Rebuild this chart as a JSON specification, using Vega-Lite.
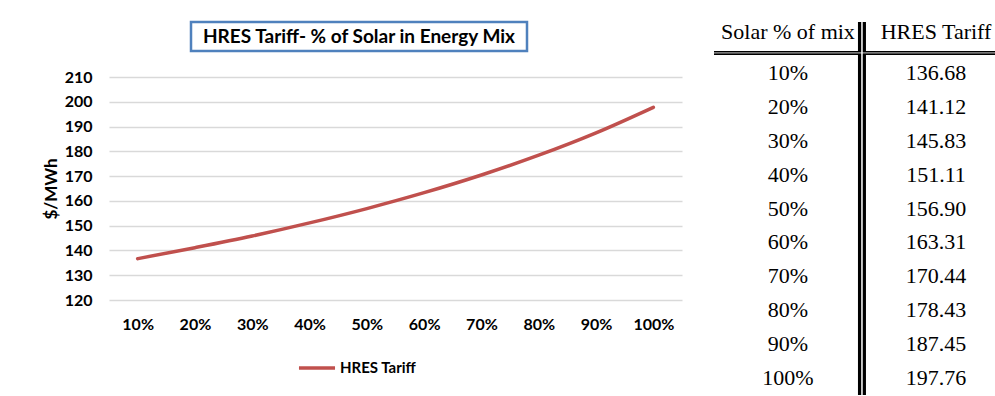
{
  "$schema": "https://vega.github.io/schema/vega-lite/v6.json",
  "padding": {"left": 42, "top": 18, "right": 0, "bottom": 0},
  "background": "white",
  "config": {"view": {"stroke": null}, "font": "Lato"},
  "datasets": {
    "tariff": [
      {"pct": "10%", "tariff": 136.68},
      {"pct": "20%", "tariff": 141.12},
      {"pct": "30%", "tariff": 145.83},
      {"pct": "40%", "tariff": 151.11},
      {"pct": "50%", "tariff": 156.90},
      {"pct": "60%", "tariff": 163.31},
      {"pct": "70%", "tariff": 170.44},
      {"pct": "80%", "tariff": 178.43},
      {"pct": "90%", "tariff": 187.45},
      {"pct": "100%", "tariff": 197.76}
    ],
    "headers": [{"col": "Solar % of mix"}, {"col": "HRES Tariff"}],
    "chartTitle": [{"label": "HRES Tariff- % of Solar in Energy Mix"}],
    "blank": [{}],
    "none": []
  },
  "spacing": 30,
  "hconcat": [
    {
      "spacing": 16,
      "vconcat": [
        {
          "spacing": 0,
          "hconcat": [
            {
              "data": {"name": "none"},
              "width": 80,
              "height": 29,
              "mark": "point"
            },
            {
              "data": {"name": "chartTitle"},
              "width": 336,
              "height": 29,
              "view": {"stroke": "#4f81bd", "strokeWidth": 2.5},
              "mark": {"type": "text", "font": "Lato", "fontWeight": "bold", "fontSize": 19, "color": "black"},
              "encoding": {"text": {"field": "label"}}
            }
          ]
        },
        {
          "data": {"name": "tariff"},
          "width": 573,
          "height": 223,
          "mark": {"type": "line", "interpolate": "monotone", "strokeWidth": 3.5, "strokeCap": "round"},
          "encoding": {
            "x": {
              "field": "pct", "type": "ordinal", "sort": null,
              "scale": {"type": "point", "padding": 0.5},
              "axis": {"title": null, "labelAngle": 0, "labelFont": "Lato", "labelFontWeight": "bold", "labelFontSize": 16, "labelColor": "black", "ticks": false, "domain": false, "grid": false, "labelPadding": 16}
            },
            "y": {
              "field": "tariff", "type": "quantitative",
              "scale": {"domain": [120, 210], "zero": false, "nice": false},
              "axis": {"title": "$/MWh", "titleFont": "Lato", "titleFontWeight": "bold", "titleFontSize": 17, "titleColor": "black", "titlePadding": 4,
                       "values": [120, 130, 140, 150, 160, 170, 180, 190, 200, 210],
                       "labelFont": "Lato", "labelFontWeight": "bold", "labelFontSize": 16, "labelColor": "black", "labelPadding": 17,
                       "ticks": false, "domain": false, "gridColor": "#d9d9d9", "gridWidth": 1.5}
            },
            "color": {
              "datum": "HRES Tariff",
              "scale": {"range": ["#c0504d"]},
              "legend": {"title": null, "orient": "none", "legendX": 188, "legendY": 326, "symbolType": "stroke", "symbolSize": 1300, "symbolStrokeWidth": 3.5,
                         "labelFont": "Lato", "labelFontWeight": "bold", "labelFontSize": 15, "labelColor": "black", "labelOffset": 3}
            }
          }
        }
      ]
    },
    {
      "data": {"name": "tariff"},
      "width": 282,
      "height": 373,
      "layer": [
        {
          "data": {"name": "blank"},
          "mark": {"type": "rule", "color": "black", "strokeWidth": 4, "yOffset": -3},
          "encoding": {"y": {"datum": "10%", "type": "nominal", "bandPosition": 0, "axis": null,
            "scale": {"type": "band", "domain": ["header", "10%", "20%", "30%", "40%", "50%", "60%", "70%", "80%", "90%", "100%"], "paddingInner": 0, "paddingOuter": 0}}}
        },
        {
          "data": {"name": "blank"},
          "mark": {"type": "rule", "color": "black", "strokeWidth": 8},
          "encoding": {"x": {"datum": "divider", "type": "nominal", "axis": null,
            "scale": {"type": "point", "domain": ["Solar % of mix", "divider", "HRES Tariff"], "padding": 0.905, "align": 0.552}}}
        },
        {
          "data": {"name": "blank"},
          "mark": {"type": "rule", "color": "#cccccc", "strokeWidth": 1, "yOffset": -3},
          "encoding": {"y": {"datum": "10%", "type": "nominal", "bandPosition": 0, "axis": null}}
        },
        {
          "data": {"name": "blank"},
          "mark": {"type": "rule", "color": "white", "strokeWidth": 1.5},
          "encoding": {"x": {"datum": "divider", "type": "nominal", "axis": null}}
        },
        {
          "data": {"name": "headers"},
          "mark": {"type": "text", "font": "Liberation Serif", "fontSize": 22, "dy": -7, "color": "black"},
          "encoding": {
            "x": {"field": "col", "type": "nominal", "axis": null},
            "y": {"datum": "header", "type": "nominal", "axis": null},
            "text": {"field": "col"}
          }
        },
        {
          "mark": {"type": "text", "font": "Liberation Serif", "fontSize": 22, "color": "black"},
          "encoding": {
            "x": {"datum": "Solar % of mix", "type": "nominal", "axis": null},
            "y": {"field": "pct", "type": "nominal", "axis": null},
            "text": {"field": "pct"}
          }
        },
        {
          "mark": {"type": "text", "font": "Liberation Serif", "fontSize": 22, "color": "black"},
          "encoding": {
            "x": {"datum": "HRES Tariff", "type": "nominal", "axis": null},
            "y": {"field": "pct", "type": "nominal", "axis": null},
            "text": {"field": "tariff", "format": ".2f"}
          }
        }
      ]
    }
  ]
}
